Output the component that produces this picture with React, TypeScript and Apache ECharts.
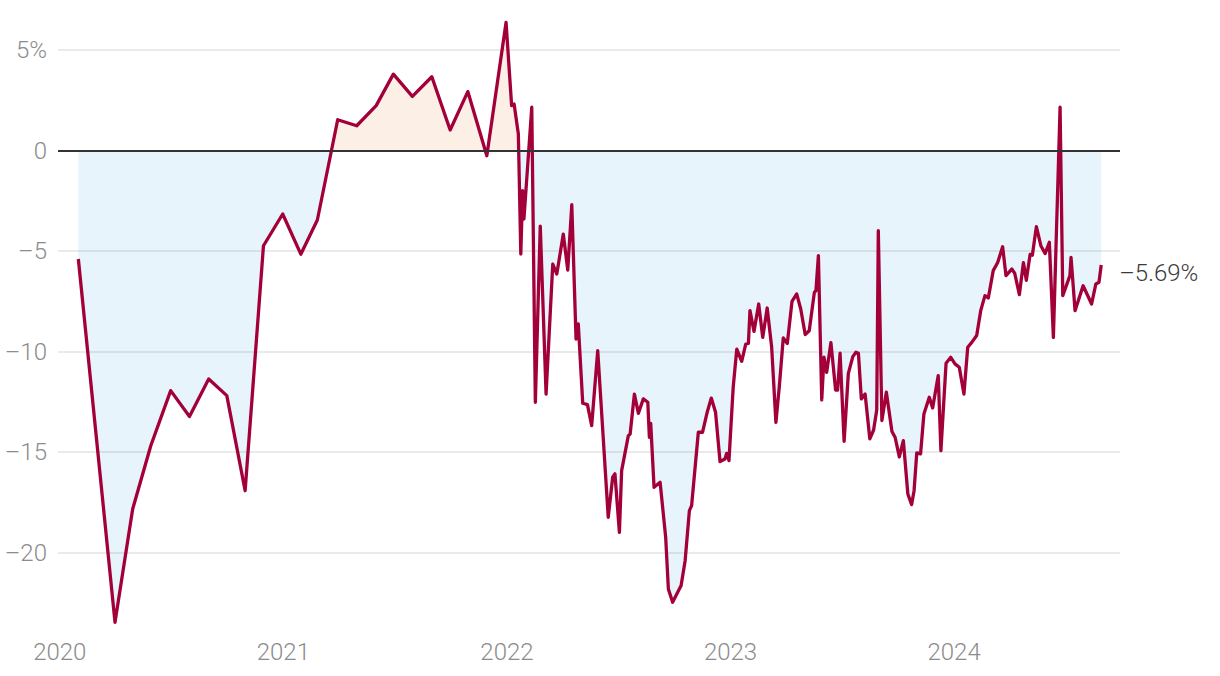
import React, { useEffect, useRef } from 'react';
import * as echarts from 'echarts';

// x values are decimal years
const dates2020 = [2020.083, 2020.247, 2020.326, 2020.407, 2020.496, 2020.58, 2020.666, 2020.747, 2020.829, 2020.911, 2020.997];
const values2020 = [-5.39, -23.47, -17.83, -14.68, -11.94, -13.23, -11.36, -12.19, -16.92, -4.73, -3.15];

const dates2021 = [2021.078, 2021.152, 2021.243, 2021.328, 2021.415, 2021.492, 2021.577, 2021.664, 2021.746, 2021.825, 2021.91, 2021.996];
const values2021 = [-5.15, -3.45, 1.54, 1.24, 2.24, 3.81, 2.7, 3.68, 1.03, 2.94, -0.25, 6.38];

const dates2022 = [
  2022.021, 2022.032, 2022.051, 2022.062, 2022.07, 2022.076, 2022.111, 2022.127, 2022.149, 2022.175,
  2022.205, 2022.223, 2022.252, 2022.272, 2022.29, 2022.309, 2022.319, 2022.339, 2022.36, 2022.379,
  2022.406, 2022.453, 2022.473, 2022.483, 2022.503, 2022.513, 2022.543, 2022.551, 2022.57, 2022.588,
  2022.61, 2022.63, 2022.637, 2022.643, 2022.658, 2022.685, 2022.71, 2022.722, 2022.741, 2022.779,
  2022.797, 2022.816, 2022.826, 2022.856, 2022.875, 2022.896, 2022.914, 2022.933, 2022.953, 2022.975,
  2022.983, 2022.993,
];
const values2022 = [
  2.24, 2.32, 0.83, -5.14, -1.99, -3.4, 2.16, -12.52, -3.75, -12.11,
  -5.64, -6.14, -4.15, -5.94, -2.69, -9.37, -8.62, -12.57, -12.64, -13.68,
  -9.95, -18.24, -16.25, -16.08, -18.99, -15.92, -14.18, -14.1, -12.11, -13.07,
  -12.35, -12.52, -14.26, -13.57, -16.75, -16.5, -19.24, -21.81, -22.47, -21.64,
  -20.4, -17.91, -17.66, -14.01, -14.01, -13.0, -12.31, -13.02, -15.47, -15.34,
  -15.06, -15.42,
];

const dates2023 = [
  2023.012, 2023.028, 2023.05, 2023.068, 2023.08, 2023.087, 2023.105, 2023.126, 2023.144, 2023.164,
  2023.184, 2023.203, 2023.218, 2023.236, 2023.254, 2023.275, 2023.296, 2023.314, 2023.334, 2023.352,
  2023.375, 2023.382, 2023.393, 2023.408, 2023.418, 2023.43, 2023.449, 2023.47, 2023.479, 2023.49,
  2023.508, 2023.527, 2023.547, 2023.561, 2023.572, 2023.585, 2023.602, 2023.623, 2023.64, 2023.654,
  2023.661, 2023.677, 2023.697, 2023.722, 2023.736, 2023.755, 2023.773, 2023.793, 2023.81, 2023.821,
  2023.833, 2023.85, 2023.865, 2023.889, 2023.904, 2023.929, 2023.941, 2023.964, 2023.985,
];
const values2023 = [
  -11.77, -9.87, -10.48, -9.62, -9.59, -7.96, -8.99, -7.63, -9.29, -7.83,
  -9.78, -13.52, -11.77, -9.32, -9.59, -7.5, -7.13, -7.88, -9.15, -8.96,
  -7.05, -6.97, -5.22, -12.4, -10.28, -11.03, -9.55, -11.91, -11.91, -10.08,
  -14.46, -11.08, -10.25, -10.03, -10.08, -12.35, -12.11, -14.34, -13.9, -12.9,
  -3.98, -13.43, -12.02, -13.97, -14.26, -15.24, -14.43, -17.08, -17.61, -16.92,
  -15.04, -15.09, -13.1, -12.27, -12.8, -11.19, -14.93, -10.58, -10.28,
];

const dates2024 = [
  2024.004, 2024.023, 2024.044, 2024.061, 2024.079, 2024.101, 2024.119, 2024.138, 2024.153, 2024.175,
  2024.195, 2024.217, 2024.232, 2024.258, 2024.271, 2024.292, 2024.31, 2024.323, 2024.34, 2024.35,
  2024.368, 2024.388, 2024.407, 2024.426, 2024.444, 2024.474, 2024.486, 2024.518, 2024.523, 2024.541,
  2024.577, 2024.615, 2024.634, 2024.648, 2024.658,
];
const values2024 = [
  -10.61, -10.78, -12.11, -9.78, -9.54, -9.2, -7.96, -7.21, -7.33, -5.97,
  -5.56, -4.78, -6.22, -5.89, -6.1, -7.16, -5.57, -6.45, -5.16, -5.2,
  -3.78, -4.73, -5.12, -4.56, -9.29, 2.16, -7.21, -6.22, -5.31, -7.96,
  -6.72, -7.63, -6.63, -6.55, -5.69,
];

const FONT = "Roboto, 'Liberation Sans', sans-serif";
const LINE_COLOR = '#a3003a';
const NEG_FILL = '#e7f4fb';
const POS_FILL = '#fcefe5';

function fmtY(v: number): string {
  if (v === 5) return '5%';
  if (v < 0) return '\u2013' + Math.abs(v);
  return String(v);
}

export default function App() {
  const ref = useRef<HTMLDivElement>(null);
  useEffect(() => {
    if (!ref.current) return;
    const chart = echarts.init(ref.current, null, { renderer: 'svg' });
    const dates = [...dates2020, ...dates2021, ...dates2022, ...dates2023, ...dates2024];
    const values = [...values2020, ...values2021, ...values2022, ...values2023, ...values2024];
    const data = dates.map((d, i) => [d, values[i]]);
    chart.setOption({
      animation: false,
      grid: { left: 58, right: 100, top: 10, bottom: 43, containLabel: false },
      xAxis: {
        type: 'value',
        min: 2019.992,
        max: 2024.742,
        axisLine: { show: false },
        axisTick: { show: false },
        splitLine: { show: false },
        axisLabel: {
          showMinLabel: false,
          showMaxLabel: false,
          formatter: (v: number) => String(Math.round(v)),
          color: '#8c8c8c',
          fontFamily: FONT,
          fontWeight: 300,
          fontSize: 24,
          margin: 7,
        },
      },
      yAxis: {
        type: 'value',
        min: -24,
        max: 7,
        z: 1,
        axisLine: { show: false },
        axisTick: { show: false },
        splitLine: {
          show: true,
          showMinLine: false,
          showMaxLine: false,
          lineStyle: { color: 'rgba(0,0,0,0.11)', width: 1.5 },
        },
        axisLabel: {
          showMinLabel: false,
          showMaxLabel: false,
          formatter: fmtY,
          color: '#8c8c8c',
          fontFamily: FONT,
          fontWeight: 300,
          fontSize: 24,
          margin: 11,
        },
      },
      visualMap: {
        type: 'piecewise',
        show: false,
        seriesIndex: 0,
        dimension: 1,
        pieces: [
          { gte: -100, lt: 0, color: NEG_FILL },
          { gte: 0, lte: 100, color: POS_FILL },
        ],
      },
      series: [
        {
          type: 'line',
          z: 0,
          data,
          showSymbol: false,
          silent: true,
          lineStyle: { width: 0, opacity: 0 },
          areaStyle: { opacity: 1 },
          markLine: {
            silent: true,
            symbol: 'none',
            label: { show: false },
            lineStyle: { color: '#333', width: 2, type: 'solid' },
            data: [{ yAxis: 0 }],
          },
        },
        {
          type: 'line',
          z: 3,
          data,
          showSymbol: false,
          lineStyle: { color: LINE_COLOR, width: 3.3, join: 'round' },
          itemStyle: { color: LINE_COLOR },
          endLabel: {
            show: true,
            formatter: (p: any) => '\u2013' + Math.abs(p.value[1]).toFixed(2) + '%',
            color: '#3a3a3a',
            fontFamily: FONT,
            fontWeight: 300,
            fontSize: 24,
            distance: 18,
            offset: [0, 8],
          },
        },
      ],
    });
    return () => chart.dispose();
  }, []);
  return <div ref={ref} style={{ position: 'absolute', left: 0, top: 0, width: 1220, height: 676 }} />;
}
